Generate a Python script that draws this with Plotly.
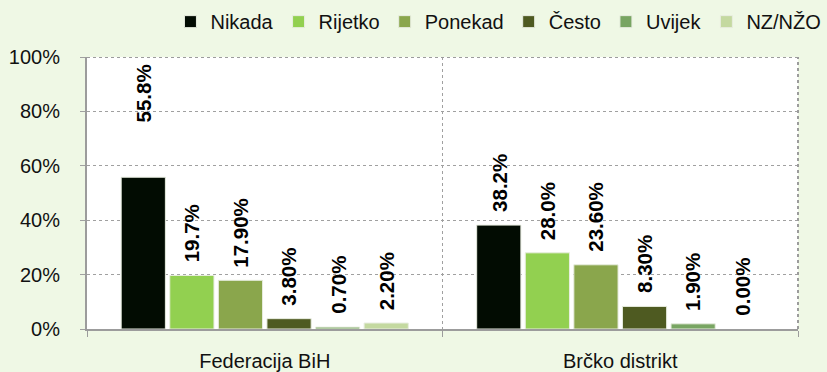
import plotly.graph_objects as go

# Survey answers by entity (percent of respondents)
regions = ["Federacija BiH", "Brčko distrikt"]
answers = ["Nikada", "Rijetko", "Ponekad", "Često", "Uvijek", "NZ/NŽO"]
nikada = [55.8, 38.2]
rijetko = [19.7, 28.0]
ponekad = [17.9, 23.6]
cesto = [3.8, 8.3]
uvijek = [0.7, 1.9]
nz_nzo = [2.2, 0.0]
# number of decimals shown in each series' value labels
label_decimals = [1, 1, 2, 2, 2, 2]
y_ticks = [0, 20, 40, 60, 80, 100]

series = [nikada, rijetko, ponekad, cesto, uvijek, nz_nzo]
colors = ["#020C02", "#92D050", "#8AA64C", "#4E5A21", "#78A562", "#C4D9A0"]

FONT = "Liberation Sans, Arial, sans-serif"
BARGAP = 0.18
GROUPGAP = 0.09
BORDER = "#9C9C9C"

fig = go.Figure()
for name, vals, col in zip(answers, series, colors):
    fig.add_trace(go.Bar(
        name=name, x=regions, y=vals,
        marker=dict(color=col,
                    line=dict(color="#E8EDE0",
                              width=[1 if v > 0 else 0 for v in vals])),
        hoverinfo="skip",
    ))

# rotated value labels above each bar
n = len(series)
slot = (1 - BARGAP) / n
extra_raise = {(0, 0): 42}
annotations = []
for i, (vals, dec) in enumerate(zip(series, label_decimals)):
    for g, v in enumerate(vals):
        xc = g - (1 - BARGAP) / 2 + slot * (i + 0.5)
        annotations.append(dict(
            x=xc, y=v, xref="x", yref="y",
            text=f"{v:.{dec}f}%", textangle=-90,
            showarrow=False, xanchor="center", yanchor="bottom",
            yshift=11 + extra_raise.get((g, i), 0),
            font=dict(family=FONT, size=20.5, color="#000000", weight="bold"),
        ))

# dotted frame along the top and right of the plot area
shapes = [
    dict(type="line", xref="paper", yref="y", x0=0, x1=1, y0=100, y1=100,
         line=dict(color=BORDER, width=2, dash="dot"), layer="above"),
    dict(type="line", xref="paper", yref="y", x0=1, x1=1, y0=0, y1=100,
         line=dict(color=BORDER, width=2, dash="dot"), layer="above"),
]

fig.update_layout(
    barmode="group", bargap=BARGAP, bargroupgap=GROUPGAP,
    width=827, height=372,
    margin=dict(l=87, r=29, t=57, b=43, autoexpand=False),
    paper_bgcolor="#EFF8E5", plot_bgcolor="#FFFFFF",
    font=dict(family=FONT, size=20, color="#111111"),
    annotations=annotations,
    shapes=shapes,
    legend=dict(
        orientation="h", x=1.04, xanchor="right", y=1.13, yanchor="middle",
        font=dict(family=FONT, size=20, color="#111111"),
        bgcolor="rgba(0,0,0,0)", itemclick=False, itemdoubleclick=False,
        traceorder="normal",
    ),
    showlegend=True,
)
fig.update_yaxes(
    range=[0, 100], tickvals=y_ticks, ticktext=[f"{t}%" for t in y_ticks],
    showgrid=True, gridcolor="#A0A0A0", griddash="dot", gridwidth=1,
    showline=True, linecolor=BORDER, linewidth=2,
    ticks="outside", ticklen=5, tickcolor="#A0A0A0",
    ticklabelstandoff=16, zeroline=False, automargin=False,
    tickfont=dict(family=FONT, size=20, color="#111111"),
)
fig.update_xaxes(
    type="category", tickson="boundaries",
    showgrid=True, gridcolor="#A0A0A0", griddash="dot", gridwidth=1,
    showline=True, linecolor=BORDER, linewidth=2,
    ticks="outside", ticklen=6, tickcolor=BORDER,
    ticklabelstandoff=13, automargin=False,
    tickfont=dict(family=FONT, size=20, color="#111111"),
)

fig.write_html("out.html")
